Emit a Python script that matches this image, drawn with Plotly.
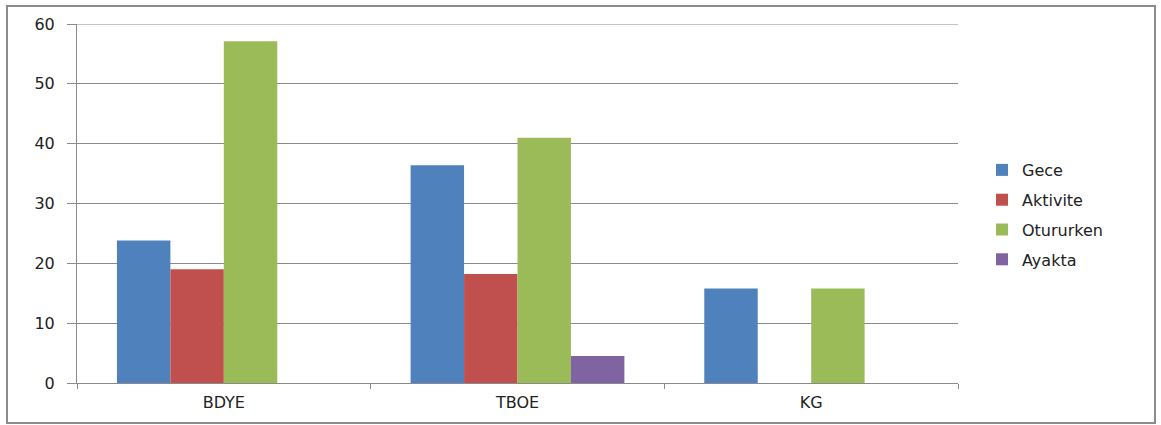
import plotly.graph_objects as go

# Categories and series values
categories = ["BDYE", "TBOE", "KG"]
gece = [23.8, 36.4, 15.8]
aktivite = [19.0, 18.2, None]
oturken = [57.1, 41.0, 15.8]
ayakta = [None, 4.5, None]

series = [
    ("Gece", gece, "#4F81BD"),
    ("Aktivite", aktivite, "#C0504D"),
    ("Otururken", oturken, "#9BBB59"),
    ("Ayakta", ayakta, "#8064A2"),
]

Y_MAX = 60
FONT = "DejaVu Sans"
GRID = "#8a8a8a"
TEXT = "#222222"

fig = go.Figure()
for name, vals, color in series:
    fig.add_trace(go.Bar(
        name=name, x=categories, y=vals,
        marker=dict(color=color, line=dict(width=0)),
        legendgroup=name,
    ))

W, H = 1161, 425
L, R, T, B = 77, 203, 24, 42
pw, ph = W - L - R, H - T - B

def px_x(x):
    return (x - L) / pw

def px_y(y):
    return (H - B - y) / ph

fig.update_layout(
    width=W, height=H,
    margin=dict(l=L, r=R, t=T, b=B),
    paper_bgcolor="white", plot_bgcolor="white",
    barmode="group", bargap=0.272, bargroupgap=0,
    font=dict(family=FONT, size=16, color=TEXT),
    showlegend=True,
    legend=dict(
        x=px_x(982), y=px_y(153), xanchor="left", yanchor="top",
        font=dict(family=FONT, size=16, color=TEXT),
        tracegroupgap=6, itemwidth=30,
        bgcolor="rgba(0,0,0,0)",
    ),
    xaxis=dict(
        showline=True, linecolor=GRID, linewidth=1,
        ticks="outside", ticklen=5, tickcolor=GRID, tickson="boundaries",
        showgrid=False, tickfont=dict(family=FONT, size=16, color=TEXT),
        ticklabelstandoff=5,
    ),
    yaxis=dict(
        range=[0, Y_MAX], dtick=10, tick0=0,
        showline=True, linecolor=GRID, linewidth=1,
        showgrid=True, gridcolor=GRID, gridwidth=1,
        ticks="outside", ticklen=9, tickcolor=GRID,
        zeroline=False,
        tickfont=dict(family=FONT, size=16, color=TEXT),
        ticklabelstandoff=9,
    ),
    shapes=[
        # outer chart border
        dict(
            type="rect", xref="paper", yref="paper",
            x0=px_x(7), x1=px_x(1155), y0=px_y(423), y1=px_y(6),
            line=dict(color="#8c8c8c", width=2), fillcolor="rgba(0,0,0,0)",
            layer="below",
        ),
        # top gridline at the axis maximum
        dict(
            type="line", xref="paper", yref="y",
            x0=0, x1=1, y0=Y_MAX, y1=Y_MAX,
            line=dict(color=GRID, width=1), layer="below",
        ),
    ],
)

fig.write_html("out.html")
